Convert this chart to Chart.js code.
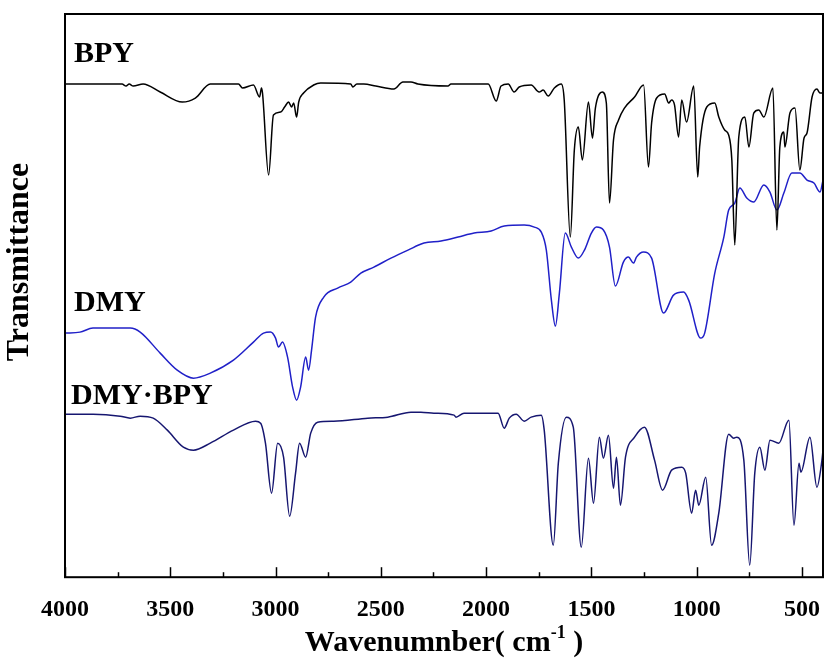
<!DOCTYPE html>
<html>
<head>
<meta charset="utf-8">
<script src="https://cdn.jsdelivr.net/npm/chart.js@4.4.1/dist/chart.umd.min.js"></script>
<style>
  html, body { margin: 0; padding: 0; background: #fff; }
  #wrap { width: 825px; height: 664px; }
</style>
</head>
<body>
<div id="wrap"><canvas id="irChart"></canvas></div>
<script>
// ========== FTIR spectra: BPY, DMY, DMY·BPY ==========
// x: wavenumber (cm-1), y: transmittance in arbitrary units (traces are stacked)

const bpyWn = [4000,3729,3710,3695,3676,3629,3548,3443,3381,3310,3176,3157,3105,3076,3067,3062,3033,3010,2976,2957,2938,2924,2914,2900,2890,2867,2819,2786,2643,2633,2614,2581,2524,2438,2395,2357,2324,2181,2167,1990,1952,1929,1895,1867,1843,1786,1748,1729,1705,1676,1643,1629,1600,1581,1562,1543,1514,1495,1481,1448,1429,1414,1395,1371,1343,1295,1252,1229,1214,1190,1152,1133,1119,1105,1086,1071,1048,1014,995,986,952,914,895,867,848,833,819,800,771,752,729,705,681,638,619,605,586,581,557,533,510,490,476,452,429,414,400];
const bpyT = [493,493,491,493,491,493,485,475,479,493,493,489,492,480,489,484,402,462,465,470,475,470,474,460,475,484,492,494,493,490,493,493,491,488,495,495,493,491,493,493,476,491,493,485,490,492,485,487,481,489,493,477,340,427,450,417,475,439,469,485,474,374,437,457,469,480,492,410,454,479,483,474,477,472,440,477,455,491,400,430,470,474,460,447,442,417,332,440,460,430,464,467,460,489,347,430,445,430,464,469,407,439,444,480,488,484,484];

const dmyWn = [4000,3929,3867,3690,3643,3548,3467,3390,3310,3200,3105,3057,3024,3000,2986,2967,2943,2919,2900,2881,2857,2843,2829,2810,2771,2705,2643,2595,2533,2452,2371,2295,2214,2133,2057,1976,1914,1819,1771,1738,1714,1690,1671,1652,1624,1595,1562,1533,1500,1476,1443,1414,1386,1348,1324,1300,1286,1252,1214,1157,1110,1062,1038,981,962,914,871,848,819,795,762,729,681,652,619,586,548,510,476,443,414,400];
const dmyT = [244,245,249,249,245,224,207,199,204,217,235,244,245,239,230,235,220,190,177,190,220,207,227,260,280,289,295,304,310,319,327,334,336,340,344,346,351,352,350,345,327,277,251,284,344,330,319,327,344,350,347,330,291,315,320,314,320,325,319,264,282,285,277,239,244,304,340,367,374,389,379,375,392,385,367,384,404,404,397,394,385,397];

const cocrystalWn = [4000,3867,3738,3690,3643,3581,3514,3438,3390,3310,3200,3095,3071,3048,3019,2990,2962,2933,2905,2886,2857,2833,2800,2724,2562,2467,2357,2310,2248,2152,2143,2105,1943,1914,1890,1857,1819,1786,1738,1724,1681,1657,1619,1586,1548,1514,1490,1462,1443,1419,1395,1381,1362,1338,1295,1248,1200,1162,1119,1071,1052,1024,1005,990,957,929,895,848,824,810,776,748,724,700,676,652,610,562,538,514,505,462,429,405,400];
const cocrystalT = [163,163,161,159,161,159,147,130,127,134,147,156,154,134,84,134,120,61,104,134,120,144,155,156,159,160,165,165,164,162,160,164,164,149,159,163,156,160,162,147,32,114,160,150,30,119,74,140,119,142,89,120,72,120,140,150,117,87,107,110,104,64,87,72,100,32,64,143,139,140,117,12,104,130,107,137,134,157,52,114,105,140,90,117,127];

const majorTicks = [4000, 3500, 3000, 2500, 2000, 1500, 1000, 500];
const minorTicks = [3750, 3250, 2750, 2250, 1750, 1250, 750];

const seriesNames = ['BPY', 'DMY', 'DMY\u00b7BPY'];
const seriesColors = ['#000000', '#2020c8', '#161670'];

const SERIF = "'Liberation Serif', 'Times New Roman', serif";

function toPoints(wn, t) {
  return wn.map((w, i) => ({ x: w, y: t[i] }));
}

// frame, inward ticks, trace names and axis titles
const framePlugin = {
  id: 'framePlugin',
  afterDraw(chart) {
    const { ctx, chartArea: a } = chart;
    const x = chart.scales.x;
    ctx.save();
    ctx.strokeStyle = '#000';
    ctx.lineWidth = 2;
    ctx.strokeRect(a.left, a.top, a.right - a.left, a.bottom - a.top);

    ctx.lineWidth = 1.5;
    majorTicks.forEach(v => {
      const px = Math.round(x.getPixelForValue(v)) + 0.5;
      ctx.beginPath();
      ctx.moveTo(px, a.bottom);
      ctx.lineTo(px, a.bottom - 10);
      ctx.stroke();
    });
    minorTicks.forEach(v => {
      const px = Math.round(x.getPixelForValue(v)) + 0.5;
      ctx.beginPath();
      ctx.moveTo(px, a.bottom);
      ctx.lineTo(px, a.bottom - 5);
      ctx.stroke();
    });

    // trace names
    ctx.fillStyle = '#000';
    ctx.font = 'bold 30px ' + SERIF;
    ctx.textAlign = 'left';
    ctx.textBaseline = 'alphabetic';
    ctx.fillText(seriesNames[0], 74, 62);
    ctx.fillText(seriesNames[1], 74, 311);
    ctx.fillText(seriesNames[2], 71, 404);

    // y title
    ctx.save();
    ctx.translate(20, 262);
    ctx.rotate(-Math.PI / 2);
    ctx.textAlign = 'center';
    ctx.textBaseline = 'middle';
    ctx.font = 'bold 32px ' + SERIF;
    ctx.fillText('Transmittance', 0, 0);
    ctx.restore();

    // x title with superscript
    const main = 'Wavenumnber( cm';
    const sup = '-1';
    const tail = ' )';
    ctx.font = 'bold 30px ' + SERIF;
    const w1 = ctx.measureText(main).width;
    const w3 = ctx.measureText(tail).width;
    ctx.font = 'bold 18px ' + SERIF;
    const w2 = ctx.measureText(sup).width;
    const cx = (a.left + a.right) / 2;
    let tx = cx - (w1 + w2 + w3) / 2;
    const base = 651;
    ctx.font = 'bold 30px ' + SERIF;
    ctx.fillText(main, tx, base);
    tx += w1;
    ctx.font = 'bold 18px ' + SERIF;
    ctx.fillText(sup, tx, base - 13);
    tx += w2;
    ctx.font = 'bold 30px ' + SERIF;
    ctx.fillText(tail, tx, base);
    ctx.restore();
  }
};

new Chart(document.getElementById('irChart'), {
  type: 'line',
  data: {
    datasets: [
      { label: seriesNames[0], data: toPoints(bpyWn, bpyT), borderColor: seriesColors[0] },
      { label: seriesNames[1], data: toPoints(dmyWn, dmyT), borderColor: seriesColors[1] },
      { label: seriesNames[2], data: toPoints(cocrystalWn, cocrystalT), borderColor: seriesColors[2] }
    ]
  },
  options: {
    responsive: true,
    maintainAspectRatio: false,
    animation: false,
    devicePixelRatio: 1,
    datasets: {
      line: { borderWidth: 1.5, pointRadius: 0, cubicInterpolationMode: 'monotone', fill: false }
    },
    layout: { padding: { left: 65, right: 2, top: 14, bottom: 22 } },
    plugins: {
      legend: { display: false },
      tooltip: { enabled: false }
    },
    scales: {
      x: {
        type: 'linear',
        reverse: true,
        min: 400,
        max: 4000,
        afterBuildTicks: (scale) => {
          scale.ticks = majorTicks.map(v => ({ value: v }));
        },
        afterFit: (scale) => {
          scale.paddingLeft = 0;
          scale.paddingRight = 0;
        },
        grid: { display: false, drawTicks: false },
        border: { display: false },
        ticks: {
          padding: 18,
          maxRotation: 0,
          autoSkip: false,
          color: '#000',
          font: { family: SERIF, size: 24, weight: 'bold' },
          callback: (v) => String(v)
        }
      },
      y: {
        display: false,
        min: 0,
        max: 563
      }
    }
  },
  plugins: [framePlugin]
});
</script>
</body>
</html>
